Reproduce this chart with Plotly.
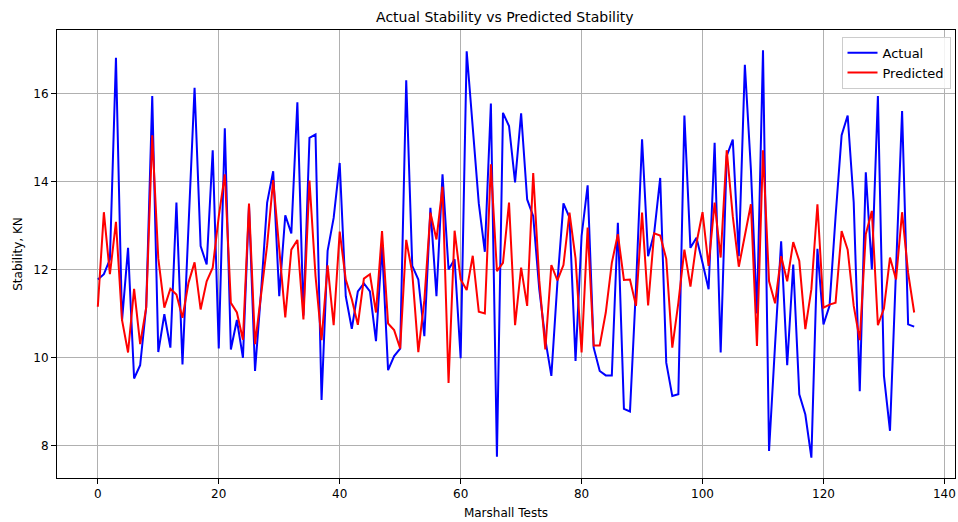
import plotly.graph_objects as go

tests = list(range(136))

actual = [
    11.77, 11.89, 12.23, 16.81, 10.83, 12.49, 9.52, 9.82, 11.15, 15.94,
    10.12, 10.98, 10.22, 13.52, 9.84, 13.0, 16.13, 12.53, 12.11, 14.71,
    10.2, 15.21, 10.18, 10.85, 9.99, 13.45, 9.69, 11.5, 13.52, 14.23,
    11.39, 13.23, 12.82, 15.80, 10.95, 14.99, 15.07, 9.03, 12.42, 13.17,
    14.42, 11.39, 10.65, 11.5, 11.68, 11.5, 10.37, 12.53, 9.71, 10.03,
    10.2, 16.30, 12.08, 11.77, 10.48, 13.40, 11.39, 14.16, 12.0, 12.23,
    9.98, 16.96, 15.3, 13.5, 12.4, 15.77, 7.74, 15.56, 15.26, 13.98,
    15.55, 13.59, 13.21, 11.55, 10.41, 9.58, 11.7, 13.5, 13.18, 9.92,
    12.76, 13.91, 10.22, 9.69, 9.59, 9.59, 13.06, 8.83, 8.77, 11.6,
    14.96, 12.3, 12.82, 14.08, 9.88, 9.12, 9.16, 15.5, 12.49, 12.72,
    12.15, 11.55, 14.88, 10.11, 14.58, 14.95, 12.3, 16.65, 14.27, 11.0,
    16.98, 7.87, 10.3, 12.64, 9.82, 12.11, 9.16, 8.70, 7.72, 12.47,
    10.75, 11.17, 13.2, 15.05, 15.5, 13.52, 9.23, 14.21, 12.0, 15.94,
    9.58, 8.33, 12.0, 15.6, 10.75, 10.70,
]

predicted = [
    11.15, 13.30, 11.89, 13.08, 10.85, 10.11, 11.56, 10.30, 11.13, 15.05,
    12.25, 11.13, 11.56, 11.43, 10.9, 11.7, 12.16, 11.09, 11.73, 12.04,
    13.2, 14.16, 11.24, 11.02, 10.4, 13.5, 10.3, 11.47, 12.55, 14.03,
    12.5, 10.91, 12.45, 12.67, 10.86, 14.02, 11.85, 10.39, 12.09, 10.73,
    12.86, 11.77, 11.32, 10.74, 11.79, 11.89, 11.02, 12.87, 10.77, 10.62,
    10.2, 12.67, 11.92, 10.12, 11.3, 13.29, 12.68, 13.88, 9.42, 12.88,
    11.77, 11.53, 12.31, 11.04, 11.0, 14.39, 11.96, 12.15, 13.52, 10.73,
    12.04, 11.17, 14.19, 11.75, 10.18, 12.1, 11.75, 12.1, 13.29, 12.25,
    10.11, 12.95, 10.27, 10.27, 11.02, 12.15, 12.8, 11.76, 11.77, 11.17,
    13.29, 11.18, 12.82, 12.77, 12.24, 10.22, 11.24, 12.45, 11.61, 12.6,
    13.3, 12.08, 13.52, 12.27, 14.71, 13.21, 12.06, 12.77, 13.48, 10.26,
    14.71, 11.73, 11.23, 12.3, 11.73, 12.62, 12.19, 10.64, 11.55, 13.48,
    11.13, 11.2, 11.24, 12.87, 12.45, 11.17, 10.39, 12.8, 13.33, 10.73,
    11.11, 12.27, 11.77, 13.3, 11.92, 11.02,
]

x_ticks = [0, 20, 40, 60, 80, 100, 120, 140]
y_ticks = [8, 10, 12, 14, 16]

fig = go.Figure()
fig.add_trace(go.Scatter(x=tests, y=actual, mode="lines", name="Actual",
                         line=dict(color="blue", width=2)))
fig.add_trace(go.Scatter(x=tests, y=predicted, mode="lines", name="Predicted",
                         line=dict(color="red", width=2)))

font = "DejaVu Sans, sans-serif"
axis_common = dict(
    showline=True, linecolor="black", linewidth=1, mirror=True,
    ticks="outside", ticklen=5, tickcolor="black", tickwidth=1,
    showgrid=True, gridcolor="#b0b0b0", gridwidth=1, zeroline=False,
    tickfont=dict(family=font, size=12, color="black"),
)

fig.update_layout(
    width=958, height=522,
    margin=dict(l=57, r=3, t=30, b=44),
    paper_bgcolor="white", plot_bgcolor="white",
    title=dict(text="Actual Stability vs Predicted Stability", x=0.527, xanchor="center",
               y=0.968, yanchor="middle",
               font=dict(family=font, size=14, color="black")),
    xaxis=dict(range=[-6.75, 141.75], tickvals=x_ticks,
               title=dict(text="Marshall Tests", font=dict(family=font, size=12, color="black"), standoff=8),
               **axis_common),
    yaxis=dict(range=[7.257, 17.443], tickvals=y_ticks,
               title=dict(text="Stability, KN", font=dict(family=font, size=12, color="black"), standoff=8),
               **axis_common),
    legend=dict(x=0.995, y=0.985, xanchor="right", yanchor="top",
                bgcolor="rgba(255,255,255,0.85)", bordercolor="#cccccc", borderwidth=1,
                font=dict(family=font, size=13, color="black"),
                tracegroupgap=0),
    showlegend=True,
)

fig.write_html("out.html", config={"displayModeBar": False},
               post_script="document.body.style.margin='0';document.body.style.overflow='hidden';")
